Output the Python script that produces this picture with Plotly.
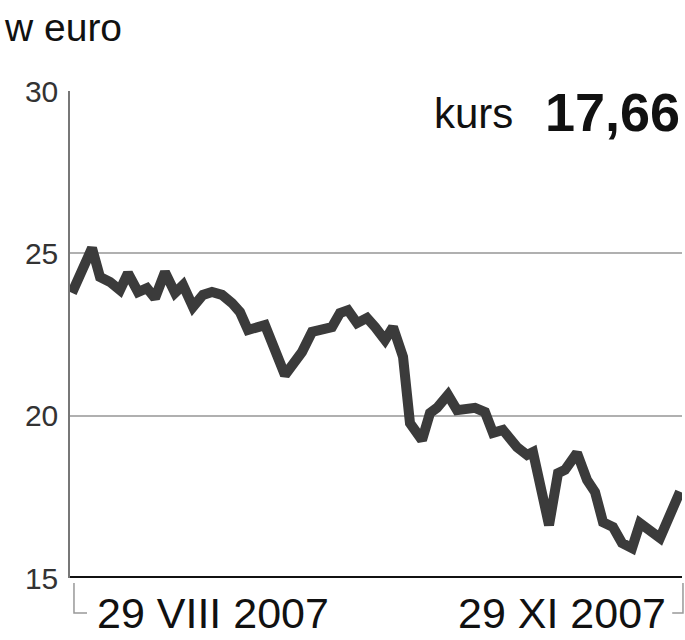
import plotly.graph_objects as go

# trading days offset from 29 VIII 2007 (approx.), and price in euro
days = [0.0, 3.03, 4.24, 5.75, 7.26, 8.47, 9.99, 11.35, 12.56, 14.07, 15.59, 16.80,
        18.31, 19.82, 21.18, 22.70, 24.21, 25.42, 26.63, 27.99, 29.20, 32.23, 33.74,
        34.80, 36.32, 37.83, 39.34, 40.55, 41.76, 43.13, 44.64, 45.85, 47.36, 48.57,
        50.09, 51.14, 52.96, 54.17, 55.23, 56.89, 58.26, 60.98, 62.49, 63.70, 65.21,
        67.34, 68.85, 69.75, 72.18, 73.54, 74.60, 76.41, 77.93, 79.14, 80.35, 81.86,
        83.22, 84.74, 85.95, 88.97, 92.0]
price = [23.78, 25.16, 24.27, 24.12, 23.87, 24.39, 23.81, 23.93, 23.62, 24.42, 23.78, 24.02,
         23.35, 23.72, 23.81, 23.72, 23.47, 23.19, 22.64, 22.73, 22.79, 21.25, 21.65,
         21.96, 22.58, 22.64, 22.73, 23.16, 23.25, 22.85, 23.01, 22.73, 22.33, 22.73,
         21.81, 19.77, 19.25, 20.08, 20.24, 20.64, 20.17, 20.24, 20.11, 19.47, 19.56,
         19.03, 18.79, 18.88, 16.63, 18.23, 18.33, 18.85, 18.02, 17.65, 16.72, 16.57,
         16.08, 15.92, 16.69, 16.23, 17.66]

y_ticks = [15, 20, 25, 30]
y_tick_labels = ["15", "20", "25", "30"]
start_label = "29 VIII 2007"
end_label = "29 XI 2007"
unit_label = "w euro"
kurs_label = "kurs"
kurs_value = "17,66"

FONT = "Liberation Sans, Arial, sans-serif"

fig = go.Figure()
fig.add_trace(go.Scatter(
    x=days, y=price, mode="lines",
    line=dict(color="#3b3b3b", width=10, shape="linear"),
    hoverinfo="skip", showlegend=False,
))

fig.update_layout(
    width=685, height=640,
    margin=dict(l=70, r=3, t=91, b=62),
    paper_bgcolor="white", plot_bgcolor="white",
    xaxis=dict(range=[-0.3, 92.3], showgrid=False, zeroline=False,
               showticklabels=False, showline=False, fixedrange=True),
    yaxis=dict(range=[15, 30], tickvals=y_ticks, ticktext=y_tick_labels,
               showgrid=True, gridcolor="#b0b0b0", gridwidth=1.5,
               zeroline=False, showline=True, linecolor="#777777", linewidth=1.5,
               ticks="", ticklabelstandoff=4,
               tickfont=dict(family=FONT, size=30, color="#333333"),
               fixedrange=True),
    shapes=[
        # thick baseline at 15
        dict(type="line", xref="paper", yref="y", x0=0, x1=1, y0=15, y1=15,
             line=dict(color="#111111", width=4)),
        # left bracket
        dict(type="path", xref="paper", yref="paper",
             path="M 0.0065 -0.0103 L 0.0065 -0.0719 L 0.0278 -0.0719",
             line=dict(color="#999999", width=1.5)),
        # right bracket
        dict(type="path", xref="paper", yref="paper",
             path="M 1.0016 -0.0103 L 1.0016 -0.0719 L 0.984 -0.0719",
             line=dict(color="#999999", width=1.5)),
    ],
    annotations=[
        dict(text=unit_label, xref="paper", yref="paper", x=-0.111, y=1.131,
             xanchor="left", yanchor="middle", showarrow=False,
             font=dict(family=FONT, size=39, color="#111111")),
        dict(text=kurs_label, xref="paper", yref="paper", x=0.727, y=0.953,
             xanchor="right", yanchor="middle", showarrow=False,
             font=dict(family=FONT, size=42, color="#111111")),
        dict(text="<b>" + kurs_value + "</b>", xref="paper", yref="paper", x=1.0, y=0.957,
             xanchor="right", yanchor="middle", showarrow=False,
             font=dict(family=FONT, size=54, color="#111111")),
        dict(text=start_label, xref="paper", yref="paper", x=0.0408, y=-0.0719,
             xanchor="left", yanchor="middle", showarrow=False,
             font=dict(family=FONT, size=43, color="#111111")),
        dict(text=end_label, xref="paper", yref="paper", x=0.977, y=-0.0719,
             xanchor="right", yanchor="middle", showarrow=False,
             font=dict(family=FONT, size=43, color="#111111")),
    ],
)

fig.write_html(
    "out.html",
    config={"displayModeBar": False},
    post_script="document.body.style.margin='0px';document.body.style.overflow='hidden';",
)
